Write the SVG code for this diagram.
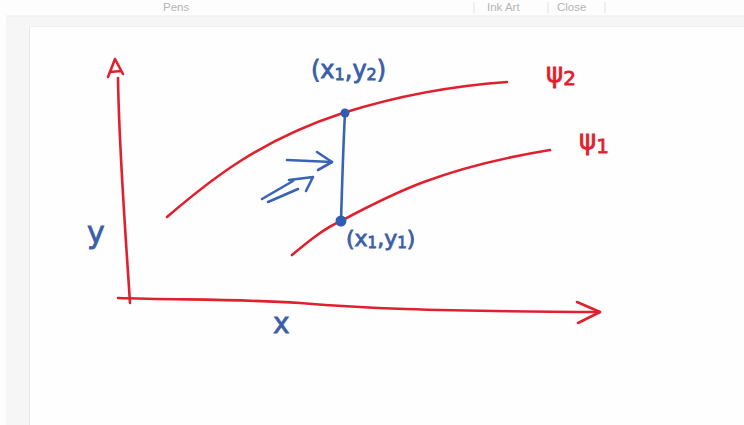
<svg xmlns="http://www.w3.org/2000/svg" width="744" height="425" viewBox="0 0 744 425">
<style>
.red{fill:none;stroke:#e1202f;stroke-width:2.6;stroke-linecap:round;stroke-linejoin:round}
.blue{fill:none;stroke:#3a62b5;stroke-width:2.6;stroke-linecap:round;stroke-linejoin:round}
.bt{fill:#3b5ea8;stroke:#3b5ea8;stroke-width:0.8;font-family:"DejaVu Sans",sans-serif}
.rt{fill:#e1202f;stroke:#e1202f;stroke-width:0.8;font-family:"DejaVu Sans",sans-serif}
.tb{fill:#b5b5b5;font-family:"Liberation Sans",sans-serif;font-size:11.5px}
.sep{stroke:#e2e2e2;stroke-width:1}
</style>
<rect width="744" height="425" fill="#fdfdfd"/>
<g id="toolbar">
<text class="tb" x="163" y="11">Pens</text>
<line class="sep" x1="474" y1="2" x2="474" y2="13"/>
<text class="tb" x="487" y="11">Ink Art</text>
<line class="sep" x1="548" y1="2" x2="548" y2="13"/>
<text class="tb" x="557" y="11">Close</text>
<line class="sep" x1="605" y1="2" x2="605" y2="13"/>
</g>
<rect x="6" y="16" width="738" height="409" fill="#f6f6f6"/>
<line x1="6" y1="16" x2="744" y2="16" stroke="#ececec"/>
<rect x="30" y="27" width="714" height="398" fill="#fefefe"/>
<line x1="29.5" y1="27" x2="29.5" y2="425" stroke="#e6e6e6"/>
<line x1="30" y1="26.5" x2="744" y2="26.5" stroke="#efefef"/>
<g id="connectors">
<g id="y-axis">
<path class="red" d="M130 303 C126 240 119 150 118 78"/>
<path class="red" d="M108 77 L115 59 L123 74 M110 72 L121 71" stroke-width="2.8"/>
</g>
<g id="x-axis">
<path class="red" d="M118 298 C180 300 240 299 300 303 C360 308 420 311 600 312"/>
<path class="red" d="M577 302 L600 312 L578 323"/>
</g>
<g id="psi2-curve"><path class="red" d="M167 217 C210 180 260 140 343 113 C400 95 450 86 507 82"/></g>
<g id="psi1-curve"><path class="red" d="M292 255 C310 240 325 228 341 221 C390 195 440 168 550 150"/></g>
<g id="segment">
<path class="blue" d="M345 113 C343 150 342 190 341 221"/>
<circle cx="345" cy="113" r="4.5" fill="#2f5db3"/>
<circle cx="341" cy="221" r="5.5" fill="#2f5db3"/>
</g>
<g id="flow-arrow">
<path class="blue" d="M287 160 L332 162"/>
<path class="blue" d="M317 152 L332 162 L318 170"/>
</g>
<g id="double-arrow">
<path class="blue" d="M262 199 L293 181"/>
<path class="blue" d="M268 202 L298 189"/>
<path class="blue" d="M289 180 L313 177 L306 191"/>
</g>
</g>
<g id="labels">
<text class="bt" x="311" y="78" font-size="24">(x<tspan font-size="16" dy="2">1</tspan><tspan dy="-2">,y</tspan><tspan font-size="16" dy="2">2</tspan><tspan dy="-2">)</tspan></text>
<text class="bt" x="346" y="246" font-size="22">(x<tspan font-size="15" dy="2">1</tspan><tspan dy="-2">,y</tspan><tspan font-size="15" dy="2">1</tspan><tspan dy="-2">)</tspan></text>
<text class="rt" x="546" y="82" font-size="26">ψ<tspan font-size="20" dy="3">2</tspan></text>
<text class="rt" x="579" y="149" font-size="26">ψ<tspan font-size="20" dy="4">1</tspan></text>
<text class="bt" x="273" y="333" font-size="28">x</text>
<text class="bt" x="87" y="243" font-size="30">y</text>
</g>
</svg>
